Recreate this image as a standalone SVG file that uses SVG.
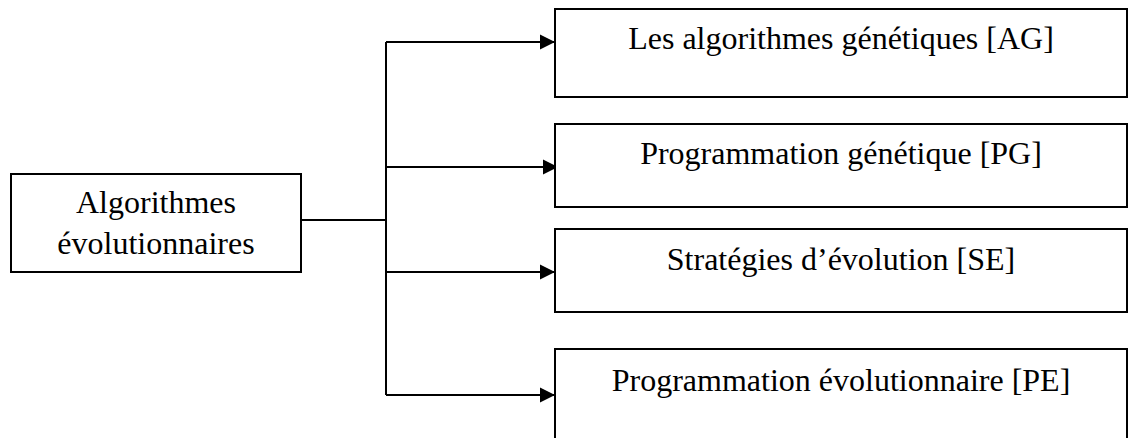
<svg xmlns="http://www.w3.org/2000/svg" width="1128" height="438" viewBox="0 0 1128 438">
<style>
.box{fill:#fff;stroke:#000;stroke-width:2}
.lbl{font-family:"Liberation Serif","Times New Roman",serif;font-size:32px;fill:#000;text-anchor:middle}
.con{fill:none;stroke:#000;stroke-width:2}
</style>
<defs>
<marker id="ah" markerUnits="userSpaceOnUse" markerWidth="16" markerHeight="16" refX="15" refY="8" orient="auto">
<path d="M0,0.5 L15,8 L0,15.5 Z" fill="#000"/>
</marker>
</defs>
<rect width="1128" height="438" fill="#fff"/>
<g id="connectors">
<path class="con" d="M301,220 H386"/>
<path class="con" d="M386,42 V395"/>
<path class="con" d="M386,42 H555" marker-end="url(#ah)"/>
<path class="con" d="M386,167 H558" marker-end="url(#ah)"/>
<path class="con" d="M386,272 H555" marker-end="url(#ah)"/>
<path class="con" d="M386,395 H555" marker-end="url(#ah)"/>
</g>
<g id="root">
<rect class="box" x="11" y="174" width="290" height="98"/>
<text class="lbl" x="156" y="213">Algorithmes</text>
<text class="lbl" x="156" y="254">évolutionnaires</text>
</g>
<g id="ag">
<rect class="box" x="555" y="9" width="572" height="88"/>
<text class="lbl" x="841" y="49">Les algorithmes génétiques [AG]</text>
</g>
<g id="pg">
<rect class="box" x="555" y="124" width="572" height="83"/>
<text class="lbl" x="841" y="164">Programmation génétique [PG]</text>
</g>
<g id="se">
<rect class="box" x="555" y="229" width="572" height="83"/>
<text class="lbl" x="841" y="270">Stratégies d’évolution [SE]</text>
</g>
<g id="pe">
<rect class="box" x="555" y="349" width="572" height="120"/>
<text class="lbl" x="841" y="391">Programmation évolutionnaire [PE]</text>
</g>
</svg>
